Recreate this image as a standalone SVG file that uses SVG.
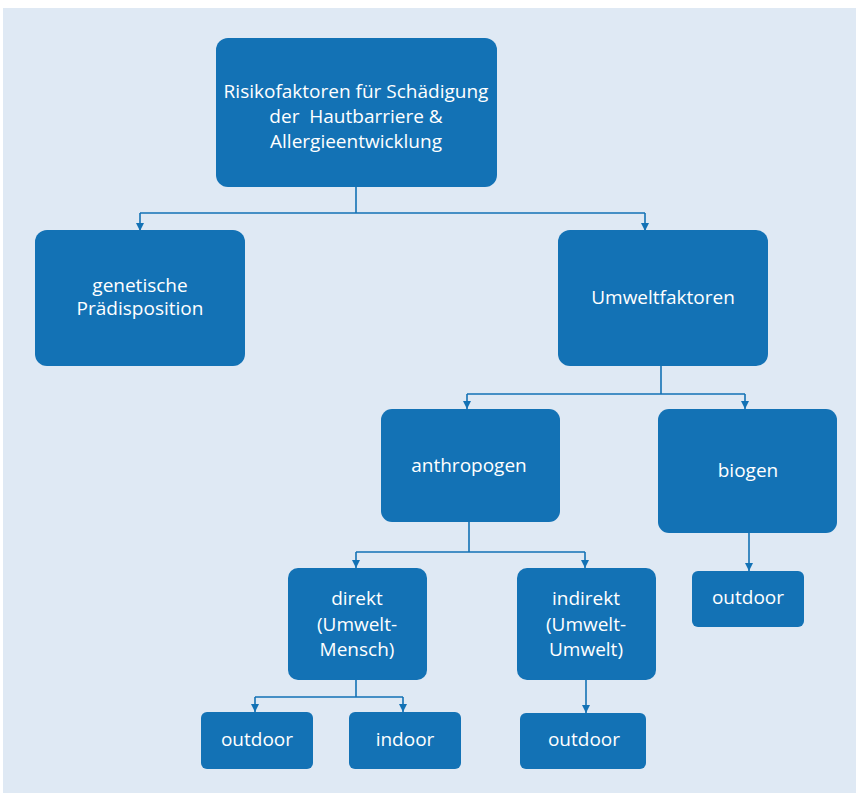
<svg xmlns="http://www.w3.org/2000/svg" width="856" height="793" viewBox="0 0 856 793">
<style>
.box{fill:#1372b5;}
.t{font-family:"Open Sans","Noto Sans","Liberation Sans",sans-serif;font-size:19px;fill:#ffffff;text-anchor:middle;white-space:pre;}
.c{fill:none;stroke:#1372b5;stroke-width:1.6;}
</style>
<defs>
<marker id="ah" viewBox="0 0 8 12" refX="8" refY="6" markerWidth="8" markerHeight="12" markerUnits="userSpaceOnUse" orient="auto">
<path d="M0,2 L8,6 L0,10 Z" fill="#1372b5"/>
</marker>
</defs>
<rect x="3" y="8" width="853" height="785" fill="#dfe9f4"/>
<g id="connectors">
<path class="c" d="M356,187 V213 M140,213 H645"/>
<path class="c" d="M140,213 V231" marker-end="url(#ah)"/>
<path class="c" d="M645,213 V231" marker-end="url(#ah)"/>
<path class="c" d="M661,366 V394 M467,394 H745"/>
<path class="c" d="M467,394 V409" marker-end="url(#ah)"/>
<path class="c" d="M745,394 V409" marker-end="url(#ah)"/>
<path class="c" d="M469,522 V552 M356,552 H585"/>
<path class="c" d="M356,552 V568" marker-end="url(#ah)"/>
<path class="c" d="M585,552 V568" marker-end="url(#ah)"/>
<path class="c" d="M749,533 V571" marker-end="url(#ah)"/>
<path class="c" d="M356,680 V697 M255,697 H403"/>
<path class="c" d="M255,697 V712" marker-end="url(#ah)"/>
<path class="c" d="M403,697 V712" marker-end="url(#ah)"/>
<path class="c" d="M586,680 V713" marker-end="url(#ah)"/>
</g>
<g id="root">
<rect class="box" x="216" y="38" width="281" height="149" rx="12"/>
<text class="t" x="356" y="98">Risikofaktoren für Schädigung</text>
<text class="t" x="356" y="123">der  Hautbarriere &amp;</text>
<text class="t" x="356" y="148">Allergieentwicklung</text>
</g>
<g id="genetisch">
<rect class="box" x="35" y="230" width="210" height="136" rx="12"/>
<text class="t" x="140" y="292">genetische</text>
<text class="t" x="140" y="315">Prädisposition</text>
</g>
<g id="umwelt">
<rect class="box" x="558" y="230" width="210" height="136" rx="12"/>
<text class="t" x="663" y="304">Umweltfaktoren</text>
</g>
<g id="anthropogen">
<rect class="box" x="381" y="409" width="179" height="113" rx="11"/>
<text class="t" x="469" y="472">anthropogen</text>
</g>
<g id="biogen">
<rect class="box" x="658" y="409" width="179" height="124" rx="11"/>
<text class="t" x="748" y="477">biogen</text>
</g>
<g id="direkt">
<rect class="box" x="288" y="568" width="139" height="112" rx="10"/>
<text class="t" x="357" y="605">direkt</text>
<text class="t" x="357" y="631">(Umwelt-</text>
<text class="t" x="357" y="656">Mensch)</text>
</g>
<g id="indirekt">
<rect class="box" x="517" y="568" width="139" height="112" rx="10"/>
<text class="t" x="586" y="605">indirekt</text>
<text class="t" x="586" y="631">(Umwelt-</text>
<text class="t" x="586" y="656">Umwelt)</text>
</g>
<g id="outdoor_biogen">
<rect class="box" x="692" y="571" width="112" height="56" rx="6"/>
<text class="t" x="748" y="604">outdoor</text>
</g>
<g id="outdoor_direkt">
<rect class="box" x="201" y="712" width="112" height="57" rx="6"/>
<text class="t" x="257" y="746">outdoor</text>
</g>
<g id="indoor">
<rect class="box" x="349" y="712" width="112" height="57" rx="6"/>
<text class="t" x="405" y="746">indoor</text>
</g>
<g id="outdoor_indirekt">
<rect class="box" x="520" y="713" width="126" height="56" rx="6"/>
<text class="t" x="584" y="746">outdoor</text>
</g>
</svg>
